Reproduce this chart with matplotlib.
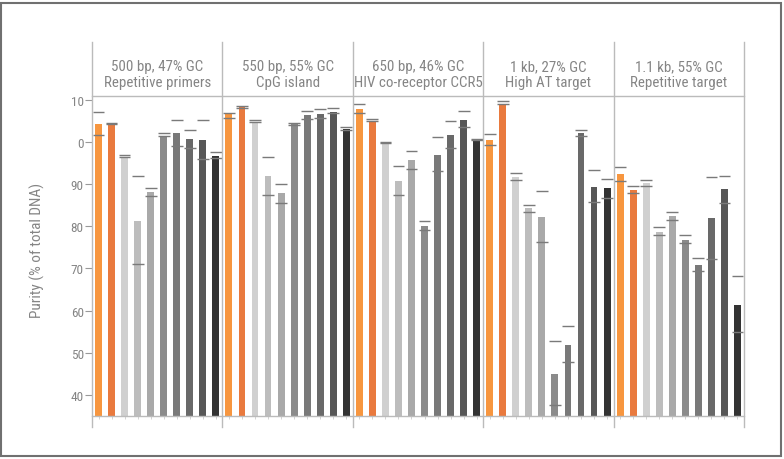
import matplotlib
matplotlib.use("Agg")
import matplotlib.pyplot as plt
from matplotlib.lines import Line2D
from matplotlib.patches import Rectangle
from matplotlib.transforms import blended_transform_factory
import numpy as np

plt.rcParams['font.family'] = ['Roboto Condensed', 'Noto Sans', 'DejaVu Sans']
plt.rcParams['font.stretch'] = 'condensed'

# ---- data ----
title_top = ["500 bp, 47% GC", "550 bp, 55% GC", "650 bp, 46% GC", "1 kb, 27% GC", "1.1 kb, 55% GC"]
title_bottom = ["Repetitive primers", "CpG island", "HIV co-receptor CCR5", "High AT target", "Repetitive target"]

purity_500 = [104.2, 104.4, 96.5, 81.3, 88.0, 101.4, 102.1, 100.7, 100.4, 96.7]
hi_500 = [107.0, 104.4, 97.0, 91.8, 89.1, 102.0, 105.2, 102.9, 105.2, 97.5]
lo_500 = [101.7, 104.2, 96.5, 71.1, 87.2, 101.3, 99.0, 98.5, 95.9, 96.1]

purity_550 = [106.8, 108.2, 104.6, 92.0, 87.9, 104.4, 106.3, 106.7, 107.2, 103.0]
hi_550 = [106.8, 108.4, 105.2, 96.5, 90.0, 104.5, 107.4, 107.8, 108.0, 103.5]
lo_550 = [105.7, 108.0, 104.8, 87.4, 85.6, 104.0, 105.4, 105.7, 106.8, 102.7]

purity_650 = [107.8, 105.0, 99.7, 90.8, 95.7, 80.1, 97.0, 101.7, 105.3, 100.5]
hi_650 = [109.1, 105.4, 99.9, 94.3, 97.8, 81.2, 101.2, 105.0, 107.4, 100.8]
lo_650 = [106.8, 104.9, 99.7, 87.4, 93.6, 79.2, 93.2, 98.5, 103.5, 100.5]

purity_1k = [100.5, 109.0, 91.7, 84.3, 82.3, 45.0, 51.9, 102.0, 89.4, 89.0]
hi_1k = [101.9, 109.8, 92.7, 85.0, 88.4, 52.9, 56.4, 102.9, 93.4, 91.1]
lo_1k = [99.3, 108.9, 90.9, 83.4, 76.3, 37.5, 47.8, 101.3, 85.8, 86.8]

purity_1_1k = [92.3, 88.7, 90.2, 78.7, 82.4, 76.8, 70.9, 81.9, 88.9, 61.4]
hi_1_1k = [94.1, 89.5, 91.0, 79.8, 83.4, 77.9, 72.4, 91.6, 92.0, 68.3]
lo_1_1k = [90.7, 87.9, 89.5, 78.0, 81.5, 76.0, 69.5, 72.2, 85.5, 55.0]

purity = [purity_500, purity_550, purity_650, purity_1k, purity_1_1k]
highs = [hi_500, hi_550, hi_650, hi_1k, hi_1_1k]
lows = [lo_500, lo_550, lo_650, lo_1k, lo_1_1k]

bar_colors = ["#F7963F", "#E97A3E", "#D0D0D0", "#BDBDBD", "#A9A9A9",
              "#8B8B8B", "#797979", "#696969", "#575757", "#333333"]

y_ticks = [40, 50, 60, 70, 80, 90, 100, 110]
y_ticklabels = ["40", "50", "60", "70", "80", "90", "0", "10"]
y_label = "Purity (% of total DNA)"

# ---- figure ----
W, H = 784, 460
fig = plt.figure(figsize=(W / 100, H / 100), dpi=100)

def fx(px):
    return px / W

def fy(py):
    return (H - py) / H

ax_left, ax_right, ax_top, ax_bot = 92, 744, 96.7, 417
ax = fig.add_axes([fx(ax_left), fy(ax_bot), fx(ax_right - ax_left), (ax_bot - ax_top) / H])

n_panels = len(purity)
n_bars = len(purity[0])
line_col = "#BBBBBB"
text_col = "#858585"

for p in range(n_panels):
    xs = p * n_bars + np.arange(n_bars) + 0.5
    ax.bar(xs, np.array(purity[p]) - 35, bottom=35, width=0.53, color=bar_colors, zorder=2)
    ax.hlines(highs[p], xs - 0.45, xs + 0.45, colors="#7A7A7A", linewidth=1.0, zorder=3)
    ax.hlines(lows[p], xs - 0.45, xs + 0.45, colors="#7A7A7A", linewidth=1.0, zorder=3)

ax.set_xlim(0, n_panels * n_bars)
ax.set_ylim(35, 110.95)

for s in ["left", "right"]:
    ax.spines[s].set_visible(False)
ax.spines["bottom"].set_color(line_col)
ax.spines["top"].set_color(line_col)
ax.spines["bottom"].set_linewidth(1.0)
ax.spines["top"].set_linewidth(1.0)

ax.set_yticks(y_ticks)
ax.set_yticklabels(y_ticklabels)
ax.tick_params(axis="y", length=5, color="#999999", labelcolor=text_col, labelsize=9.5, pad=1, width=0.8)
ax.set_xticks(np.arange(n_panels * n_bars) + 0.5)
ax.set_xticklabels([])
ax.tick_params(axis="x", length=2, color="#CCCCCC", width=0.6)

ax.set_ylabel(y_label, color=text_col, fontsize=11)
ax.yaxis.set_label_coords((45 - ax_left) / (ax_right - ax_left), 0.52)

# panel separators
trans = blended_transform_factory(ax.transData, fig.transFigure)
for k in range(n_panels + 1):
    ax.add_line(Line2D([k * n_bars, k * n_bars], [fy(428.3), fy(43.3)], transform=trans,
                       color=line_col, linewidth=1.0, clip_on=False, zorder=4))

# panel titles
for p in range(n_panels):
    xc = p * n_bars + n_bars / 2
    ax.text(xc, fy(71), title_top[p], transform=trans, ha="center", va="baseline",
            fontsize=10.8, color=text_col)
    ax.text(xc, fy(87.5), title_bottom[p], transform=trans, ha="center", va="baseline",
            fontsize=10.8, color=text_col)

# outer frame
fig.add_artist(Rectangle((fx(1), fy(457)), fx(780), (457 - 4) / H, transform=fig.transFigure,
                         fill=False, edgecolor="#707070", linewidth=1.5))

fig.savefig("out.png", dpi=100, facecolor="white")
